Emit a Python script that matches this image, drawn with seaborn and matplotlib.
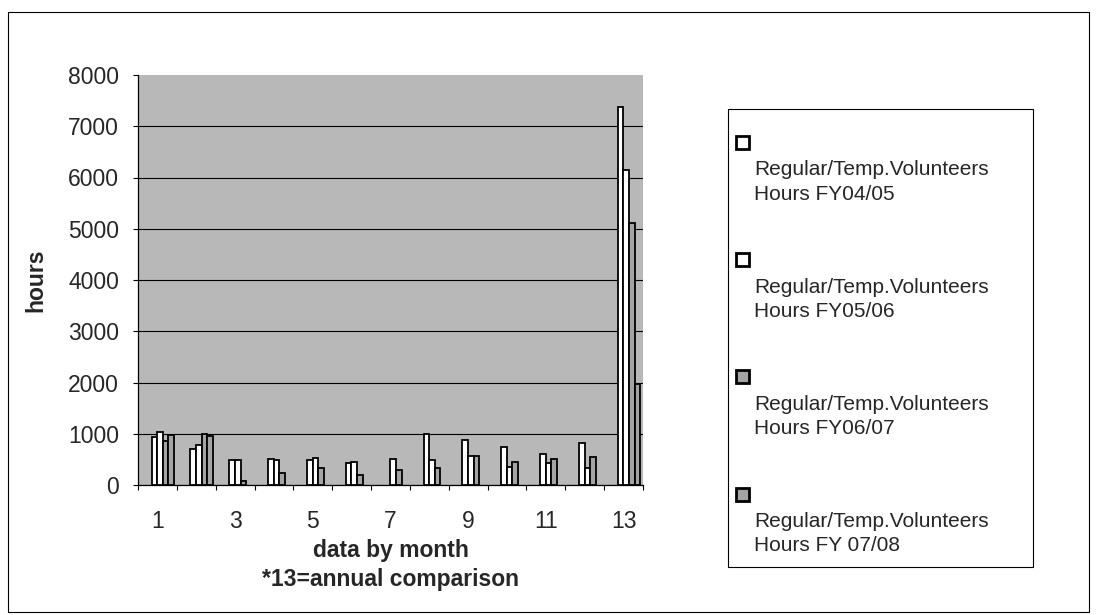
import numpy as np
import pandas as pd
import matplotlib
matplotlib.use('Agg')
import matplotlib.pyplot as plt
import seaborn as sns
from matplotlib.patches import Patch, Rectangle
from matplotlib.legend_handler import HandlerPatch

# Data (13 = annual comparison)
months = ['1', '2', '3', '4', '5', '6', '7', '8', '9', '10', '11', '12', '13']
fy0405 = [940, 700, 490, 500, 490, 420, np.nan, 990, 880, 735, 605, 825, 7370]
fy0506 = [1030, 790, 490, 490, 530, 440, 500, 490, 560, 345, 435, 325, 6150]
fy0607 = [860, 990, 80, 240, 330, 195, 300, 325, 560, 455, 505, 540, 5120]
fy0708 = [975, 955] + [np.nan] * 10 + [1970]

series_names = ['Regular/Temp.Volunteers\nHours FY04/05',
                'Regular/Temp.Volunteers\nHours FY05/06',
                'Regular/Temp.Volunteers\nHours FY06/07',
                'Regular/Temp.Volunteers\nHours FY 07/08']
series_colors = ['white', 'white', '#a4a4a4', '#a4a4a4']
bg_color = '#b8b8b8'

df = pd.DataFrame({
    'month': months * 4,
    'hours': fy0405 + fy0506 + fy0607 + fy0708,
    'series': np.repeat(series_names, len(months)),
})

sns.set_theme(style='white')
plt.rcParams['font.family'] = ['Liberation Sans', 'DejaVu Sans']

W, H = 1096, 615
fig = plt.figure(figsize=(W / 100, H / 100), dpi=100)
ax = fig.add_axes([138 / W, 130 / H, 505 / W, 410 / H])
ax.set_facecolor(bg_color)

sns.barplot(data=df, x='month', y='hours', hue='series', order=months,
            hue_order=series_names, palette=series_colors, saturation=1,
            width=0.58, edgecolor='black', linewidth=1.3, legend=False,
            ax=ax, zorder=3)

# Excel drew the bar groups slightly right of the category centre
for p in ax.patches:
    p.set_x(p.get_x() + 0.14)

# y axis
ax.set_ylim(0, 8000)
ax.set_yticks(range(0, 8001, 1000))
ax.yaxis.grid(True, color='black', linewidth=0.8)
ax.get_ygridlines()[-1].set_visible(False)
ax.set_axisbelow(True)
ax.tick_params(axis='y', direction='out', length=3.6, width=0.8,
               color='black', pad=10, labelsize=16.5, left=True)

# x axis: labels on odd months, tick marks between categories
ax.set_xlim(-0.5, 12.5)
ax.set_xticks(range(0, 13, 2))
ax.set_xticklabels(months[::2])
ax.set_xticks(np.arange(-0.5, 13, 1), minor=True)
ax.tick_params(axis='x', which='major', length=0, pad=18, labelsize=16.5)
ax.tick_params(axis='x', which='minor', direction='out', length=3.6,
               width=0.8, color='black', bottom=True)

for side in ['top', 'right']:
    ax.spines[side].set_visible(False)
for side in ['left', 'bottom']:
    ax.spines[side].set_color('black')
    ax.spines[side].set_linewidth(0.9)

ax.set_xlabel('data by month\n*13=annual comparison', fontsize=16.5,
              fontweight='bold', linespacing=1.3)
ax.xaxis.set_label_coords(0.5, -0.132)
ax.set_ylabel('hours', fontsize=16.5, fontweight='bold')
ax.yaxis.set_label_coords(-0.18, 0.5)


# legend: small square above each two-line label
class TopSquareHandler(HandlerPatch):
    def create_artists(self, legend, orig_handle, xdescent, ydescent,
                       width, height, fontsize, trans):
        r = Rectangle((-xdescent - 13.5, 29.2), 9.4, 9.4,
                      facecolor=orig_handle.get_facecolor(),
                      edgecolor='black', linewidth=2, transform=trans)
        return [r]


handles = [Patch(facecolor=c, edgecolor='black') for c in series_colors]
leg = fig.legend(handles, series_names, loc='upper left',
                 bbox_to_anchor=(744 / W, 1 - 150 / H), bbox_transform=fig.transFigure,
                 frameon=False, borderpad=0, fontsize=15, handlelength=0,
                 handletextpad=0, labelspacing=3.55,
                 handler_map={Patch: TopSquareHandler()})
for t in leg.get_texts():
    t.set_linespacing(1.35)

# legend frame and outer chart border
fig.add_artist(Rectangle((728 / W, 1 - 567 / H), 305 / W, 458 / H,
                         transform=fig.transFigure, fill=False,
                         edgecolor='black', linewidth=0.8))
fig.add_artist(Rectangle((8 / W, 1 - 612 / H), 1081 / W, 600 / H,
                         transform=fig.transFigure, fill=False,
                         edgecolor='black', linewidth=0.8))

fig.savefig('out.png', dpi=100)
plt.close(fig)
